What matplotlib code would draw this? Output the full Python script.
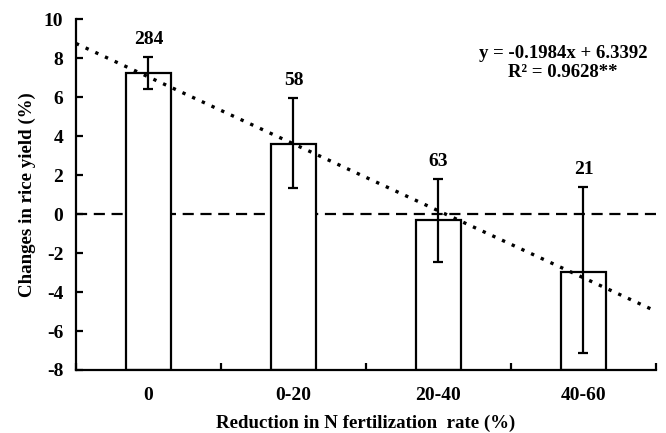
import matplotlib.pyplot as plt
import numpy as np

categories = ['0', '0-20', '20-40', '40-60']
yield_change = [7.25, 3.59, -0.31, -2.96]
err_upper = [8.07, 5.96, 1.79, 1.40]
err_lower = [6.41, 1.32, -2.45, -7.14]
sample_n = ['284', '58', '63', '21']

# trend line end points, in category units
trend_x = [-0.5, 3.48]
trend_y = [8.75, -4.92]

plt.rcParams['font.family'] = ['Liberation Serif', 'DejaVu Serif']
plt.rcParams['font.weight'] = 'bold'
plt.rcParams['axes.unicode_minus'] = False

fig = plt.figure(figsize=(6.66, 4.33), dpi=100)
ax = fig.add_axes([0.114, 0.1455, 0.871, 0.8105])

y_min = -8
x = np.arange(len(categories))
vals = np.array(yield_change)
yerr = [vals - np.array(err_lower), np.array(err_upper) - vals]

# bars start from the bottom of the axis, as in the original
ax.bar(x, vals - y_min, bottom=y_min, width=0.31, color='white', edgecolor='black',
       linewidth=1.6, zorder=2)
ax.errorbar(x, vals, yerr=yerr, fmt='none', ecolor='black', elinewidth=1.6,
            capsize=3.5, capthick=1.6, zorder=3)

for xi, top, n in zip(x, err_upper, sample_n):
    ax.text(xi, top + 0.45, n, ha='center', va='bottom', fontsize=14, fontweight='bold')

ax.axhline(0, color='black', linestyle=(0, (5, 3)), linewidth=1.6, zorder=1)
ax.plot(trend_x, trend_y, color='black', linestyle=(0, (1, 2.2)), linewidth=2.4,
        zorder=4)

ax.text(0.84, 0.925, 'y = -0.1984x + 6.3392\nR² = 0.9628**', transform=ax.transAxes,
        ha='center', va='top', fontsize=13.5, fontweight='bold', linespacing=1.1)

ax.set_xlim(-0.5, 3.5)
ax.set_ylim(y_min, 10)
ax.set_yticks(range(-8, 11, 2))
ax.set_xticks(x)
ax.set_xticklabels(categories)
ax.set_xticks(np.arange(-0.5, 3.6, 1), minor=True)
ax.tick_params(axis='x', which='major', length=0, pad=12, labelsize=14)
ax.tick_params(axis='x', which='minor', direction='in', length=5, width=1.6)
ax.tick_params(axis='y', direction='in', length=5, width=1.6, labelsize=14, pad=9)

for side in ['top', 'right']:
    ax.spines[side].set_visible(False)
for side in ['left', 'bottom']:
    ax.spines[side].set_linewidth(1.6)

ax.set_xlabel('Reduction in N fertilization  rate (%)', fontsize=13.6, fontweight='bold',
              labelpad=8)
ax.set_ylabel('Changes in rice yield (%)', fontsize=13.6, fontweight='bold', labelpad=6)

plt.savefig('out.png', dpi=100)
